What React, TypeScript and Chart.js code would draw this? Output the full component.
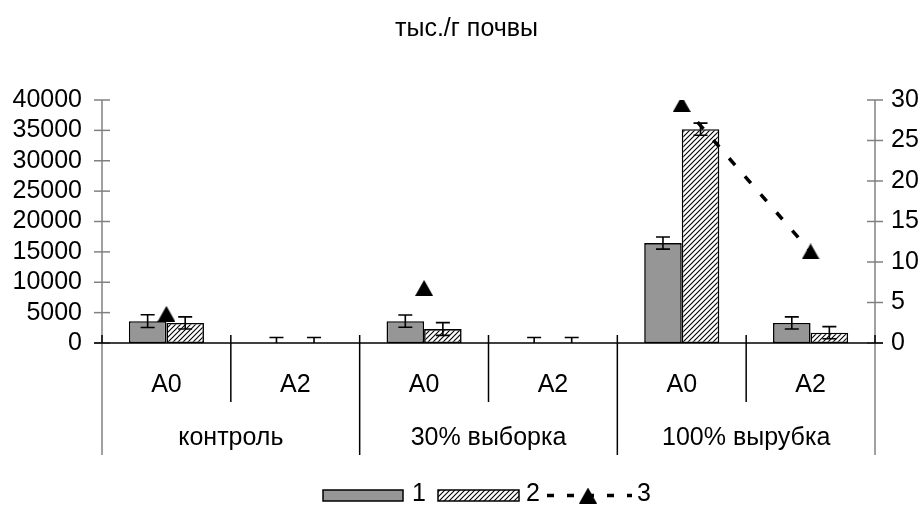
import React, { useEffect, useRef } from "react";
import { Chart, registerables } from "chart.js";

Chart.register(...registerables);

// ---------- data ----------
const titleText = "тыс./г почвы";
const categories = ["A0", "A2", "A0", "A2", "A0", "A2"];
const groups = ["контроль", "30% выборка", "100% вырубка"];
const series1 = [3600, 0, 3600, 0, 16450, 3300];
const series1Err = [1050, 900, 1000, 900, 1000, 1000];
const series2 = [3300, 0, 2300, 0, 35200, 1700];
const series2Err = [1000, 900, 1050, 900, 1000, 1000];
const series3: (number | null)[] = [3.6, null, 6.8, null, 29.5, 11.3];
const seriesNames = ["1", "2", "3"];
const leftMax = 40000;
const leftStep = 5000;
const rightMax = 30;
const rightStep = 5;

const FONT = '"Liberation Sans", Arial, sans-serif';
const FONT_SIZE = 25;

function makeHatch(): CanvasPattern | string {
  const s = 5;
  const c = document.createElement("canvas");
  c.width = s;
  c.height = s;
  const g = c.getContext("2d");
  if (!g) return "#fff";
  g.fillStyle = "#fff";
  g.fillRect(0, 0, s, s);
  g.strokeStyle = "#000";
  g.lineWidth = 1.1;
  g.beginPath();
  g.moveTo(0, s);
  g.lineTo(s, 0);
  g.moveTo(-1, 1);
  g.lineTo(1, -1);
  g.moveTo(s - 1, s + 1);
  g.lineTo(s + 1, s - 1);
  g.stroke();
  return g.createPattern(c, "repeat") || "#fff";
}

function makeTriangle(w: number, h: number): HTMLCanvasElement {
  const c = document.createElement("canvas");
  c.width = w;
  c.height = h;
  const g = c.getContext("2d");
  if (g) {
    g.fillStyle = "#000";
    g.beginPath();
    g.moveTo(w / 2, 0);
    g.lineTo(w, h);
    g.lineTo(0, h);
    g.closePath();
    g.fill();
  }
  return c;
}

export default function App() {
  const ref = useRef<HTMLCanvasElement | null>(null);

  useEffect(() => {
    const canvas = ref.current;
    if (!canvas) return;
    const hatch = makeHatch();
    const tri = makeTriangle(18, 16);

    const line = (ctx: CanvasRenderingContext2D, x1: number, y1: number, x2: number, y2: number) => {
      ctx.beginPath();
      ctx.moveTo(x1, y1);
      ctx.lineTo(x2, y2);
      ctx.stroke();
    };

    const decor = {
      id: "decor",
      afterDatasetDraw(chart: any, args: any) {
        const idx = args.index;
        if (idx > 1) return;
        const errs = idx === 0 ? series1Err : series2Err;
        const vals = idx === 0 ? series1 : series2;
        const ys = chart.scales.y;
        const ctx: CanvasRenderingContext2D = chart.ctx;
        const a = chart.chartArea;
        ctx.save();
        ctx.beginPath();
        ctx.rect(a.left, a.top - 20, a.right - a.left, a.bottom - a.top + 20);
        ctx.clip();
        ctx.strokeStyle = "#000";
        ctx.lineWidth = 1.6;
        args.meta.data.forEach((bar: any, i: number) => {
          const x = bar.x;
          const hi = ys.getPixelForValue(vals[i] + errs[i]);
          const lo = ys.getPixelForValue(vals[i] - errs[i]);
          ctx.beginPath();
          ctx.moveTo(x, hi);
          ctx.lineTo(x, lo);
          ctx.moveTo(x - 7, hi);
          ctx.lineTo(x + 7, hi);
          ctx.moveTo(x - 7, lo);
          ctx.lineTo(x + 7, lo);
          ctx.stroke();
        });
        ctx.restore();
      },
      afterDraw(chart: any) {
        const ctx: CanvasRenderingContext2D = chart.ctx;
        const a = chart.chartArea;
        const xs = chart.scales.x;
        const ys = chart.scales.y;
        const y1s = chart.scales.y1;
        const innerBottom = 402;
        const groupBottom = 455;
        ctx.save();
        ctx.lineWidth = 1.5;

        // value axes (grey) + their extension as outer separators
        ctx.strokeStyle = "#808080";
        line(ctx, a.left, a.top, a.left, groupBottom);
        line(ctx, a.right, a.top, a.right, groupBottom);
        ys.ticks.forEach((_t: any, i: number) => {
          const py = ys.getPixelForTick(i);
          line(ctx, a.left - 8, py, a.left + 8, py);
        });
        y1s.ticks.forEach((_t: any, i: number) => {
          const py = y1s.getPixelForTick(i);
          line(ctx, a.right - 8, py, a.right + 8, py);
        });

        // category axis
        ctx.strokeStyle = "#000";
        line(ctx, a.left - 8, a.bottom, a.right + 8, a.bottom);
        const n = categories.length;
        for (let k = 0; k <= n; k++) {
          let bx: number;
          if (k === 0) bx = a.left;
          else if (k === n) bx = a.right;
          else bx = (xs.getPixelForValue(k - 1) + xs.getPixelForValue(k)) / 2;
          const bottom = k % 2 === 0 ? groupBottom : innerBottom;
          if (k === 0 || k === n) {
            line(ctx, bx, a.bottom - 8, bx, a.bottom);
          } else {
            line(ctx, bx, a.bottom - 8, bx, bottom);
          }
        }

        // category labels
        ctx.fillStyle = "#000";
        ctx.font = `${FONT_SIZE}px ${FONT}`;
        ctx.textAlign = "center";
        ctx.textBaseline = "alphabetic";
        categories.forEach((c, i) => {
          ctx.fillText(c, xs.getPixelForValue(i), 392);
        });
        groups.forEach((g, gi) => {
          const cx = (xs.getPixelForValue(gi * 2) + xs.getPixelForValue(gi * 2 + 1)) / 2;
          ctx.fillText(g, cx, 445);
        });

        // title
        ctx.fillText(titleText, 466.5, 36);

        // legend
        const ly = 490;
        const lh = 11;
        const base = 501;
        ctx.textAlign = "left";
        ctx.lineWidth = 1.5;
        ctx.fillStyle = "#969696";
        ctx.fillRect(323, ly, 80, lh);
        ctx.strokeStyle = "#000";
        ctx.strokeRect(323, ly, 80, lh);
        ctx.fillStyle = "#000";
        ctx.fillText(seriesNames[0], 412, base);
        ctx.fillStyle = hatch as any;
        ctx.fillRect(438, ly, 81, lh);
        ctx.strokeRect(438, ly, 81, lh);
        ctx.fillStyle = "#000";
        ctx.fillText(seriesNames[1], 526, base);
        ctx.save();
        ctx.lineWidth = 3.5;
        ctx.setLineDash([7, 13]);
        line(ctx, 547, ly + lh / 2, 632, ly + lh / 2);
        ctx.restore();
        ctx.drawImage(tri, 588 - 9, ly + lh / 2 - 8);
        ctx.fillText(seriesNames[2], 637, base);

        ctx.restore();
      },
    };

    const chart = new Chart(canvas, {
      type: "bar",
      data: {
        labels: categories,
        datasets: [
          {
            type: "bar",
            label: seriesNames[0],
            data: series1,
            backgroundColor: "#969696",
            borderColor: "#000",
            borderWidth: 1.6,
            borderSkipped: false,
            categoryPercentage: 0.583,
            barPercentage: 1,
            yAxisID: "y",
          },
          {
            type: "bar",
            label: seriesNames[1],
            data: series2,
            backgroundColor: hatch as any,
            borderColor: "#000",
            borderWidth: 1.6,
            borderSkipped: false,
            categoryPercentage: 0.583,
            barPercentage: 1,
            yAxisID: "y",
          },
          {
            type: "line",
            label: seriesNames[2],
            data: series3,
            yAxisID: "y1",
            borderColor: "#000",
            borderWidth: 3.5,
            borderDash: [9, 15],
            pointStyle: tri as any,
            pointRadius: 9,
            spanGaps: false,
            fill: false,
            order: -1,
          } as any,
        ],
      },
      options: {
        responsive: false,
        animation: false,
        events: [],
        layout: { padding: { left: 0, right: 0, top: 100, bottom: 171 } },
        plugins: {
          legend: { display: false },
          title: { display: false },
          tooltip: { enabled: false },
        },
        scales: {
          x: {
            type: "category",
            display: false,
            offset: true,
            grid: { display: false },
          },
          y: {
            position: "left",
            min: 0,
            max: leftMax,
            grid: { display: false, drawTicks: false },
            border: { display: false },
            ticks: {
              stepSize: leftStep,
              autoSkip: false,
              padding: 20,
              color: "#000",
              font: { family: FONT, size: FONT_SIZE },
              callback: (v: any) => String(v),
            },
            afterFit: (s: any) => {
              s.width = 102;
            },
          },
          y1: {
            position: "right",
            min: 0,
            max: rightMax,
            grid: { display: false, drawTicks: false },
            border: { display: false },
            ticks: {
              stepSize: rightStep,
              autoSkip: false,
              padding: 16,
              color: "#000",
              font: { family: FONT, size: FONT_SIZE },
              callback: (v: any) => String(v),
            },
            afterFit: (s: any) => {
              s.width = 48;
            },
          },
        },
      },
      plugins: [decor],
    });

    return () => chart.destroy();
  }, []);

  return (
    <div style={{ position: "absolute", left: 0, top: 0, width: 923, height: 514, background: "#fff" }}>
      <canvas ref={ref} width={923} height={514} style={{ display: "block" }} />
    </div>
  );
}
